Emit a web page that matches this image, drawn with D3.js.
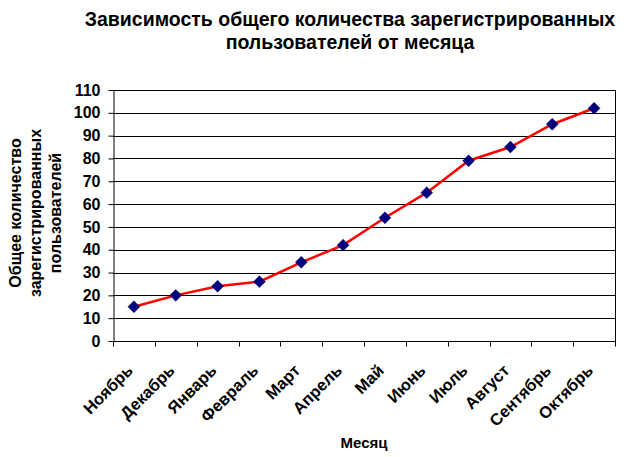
<!DOCTYPE html>
<html>
<head>
<meta charset="utf-8">
<script src="https://cdn.jsdelivr.net/npm/d3@7"></script>
<style>
    body { margin: 0; background: #fff; }
    text { font-family: "Liberation Sans", Arial, sans-serif; font-weight: bold; fill: #000; }
</style>
</head>
<body>
<div id="chart"></div>
<script>
const months = ['Ноябрь', 'Декабрь', 'Январь', 'Февраль', 'Март', 'Апрель', 'Май', 'Июнь', 'Июль', 'Август', 'Сентябрь', 'Октябрь'];
const users = [15, 20, 24, 26, 34.5, 42, 54, 65, 79, 85, 95, 102];
const yTicks = [0, 10, 20, 30, 40, 50, 60, 70, 80, 90, 100, 110];
const titleLines = ['Зависимость общего количества зарегистрированных', 'пользователей от месяца'];
const yTitleLines = ['Общее количество', 'зарегистрированных', 'пользователей'];

const width = 627;
const height = 457;
const margin = {top: 90, right: 12, bottom: 116, left: 113};

const svg = d3.select('#chart')
    .append('svg')
    .attr('width', width)
    .attr('height', height);

const x = d3.scaleBand()
    .domain(months)
    .range([margin.left, width - margin.right]);

const y = d3.scaleLinear()
    .domain([0, 110])
    .range([height - margin.bottom, margin.top]);

const cx = d => x(d) + x.bandwidth() / 2;

// grid lines
svg.append('g')
    .selectAll('line')
    .data(yTicks.slice(1))
    .enter()
    .append('line')
    .attr('x1', margin.left)
    .attr('x2', width - margin.right)
    .attr('y1', d => Math.round(y(d)) + 0.5)
    .attr('y2', d => Math.round(y(d)) + 0.5)
    .attr('stroke', '#000')
    .attr('stroke-width', 1);

// right border of plot area
svg.append('line')
    .attr('x1', width - margin.right + 0.5)
    .attr('x2', width - margin.right + 0.5)
    .attr('y1', y(110))
    .attr('y2', y(0))
    .attr('stroke', '#000');

// y axis
const yAxis = svg.append('g')
    .attr('transform', `translate(${margin.left + 0.5},0)`)
    .call(d3.axisLeft(y).tickValues(yTicks).tickSize(5).tickSizeOuter(0).tickPadding(8));
yAxis.select('.domain').attr('stroke', '#000');
yAxis.selectAll('text').style('font-size', '16px').style('font-family', '"Liberation Sans", Arial, sans-serif');

// x axis, ticks between categories
const xAxis = svg.append('g')
    .attr('transform', `translate(0,${Math.round(y(0)) + 0.5})`);
xAxis.append('line')
    .attr('x1', margin.left)
    .attr('x2', width - margin.right + 1)
    .attr('stroke', '#000');
xAxis.selectAll('.tick-line')
    .data(months.concat(['end']))
    .enter()
    .append('line')
    .attr('x1', (d, i) => Math.round(margin.left + i * x.step()) + 0.5)
    .attr('x2', (d, i) => Math.round(margin.left + i * x.step()) + 0.5)
    .attr('y1', 0)
    .attr('y2', 5)
    .attr('stroke', '#000');
xAxis.selectAll('.tick-label')
    .data(months)
    .enter()
    .append('text')
    .attr('transform', d => `translate(${cx(d)},${30}) rotate(-45)`)
    .attr('text-anchor', 'end')
    .style('font-size', '16.5px')
    .text(d => d);

// line
const line = d3.line()
    .x((d, i) => cx(months[i]))
    .y(d => y(d));

svg.append('path')
    .datum(users)
    .attr('d', line)
    .attr('fill', 'none')
    .attr('stroke', '#ff0000')
    .attr('stroke-width', 2.5);

// markers
svg.append('g')
    .selectAll('path')
    .data(users)
    .enter()
    .append('path')
    .attr('d', d3.symbol().type(d3.symbolDiamond2).size(90))
    .attr('transform', (d, i) => `translate(${cx(months[i])},${y(d)})`)
    .attr('fill', '#000080')
    .attr('stroke', '#000040')
    .attr('stroke-width', 0.5);

// title
svg.append('text')
    .attr('y', 26)
    .attr('text-anchor', 'middle')
    .style('font-size', '19.5px')
    .selectAll('tspan')
    .data(titleLines)
    .enter()
    .append('tspan')
    .attr('x', 350)
    .attr('dy', (d, i) => i === 0 ? 0 : 23)
    .text(d => d);

// y title
svg.append('text')
    .attr('transform', 'translate(21,213) rotate(-90)')
    .attr('text-anchor', 'middle')
    .style('font-size', '16px')
    .selectAll('tspan')
    .data(yTitleLines)
    .enter()
    .append('tspan')
    .attr('x', 0)
    .attr('dy', (d, i) => i === 0 ? 0 : 20)
    .text(d => d);

// x title
svg.append('text')
    .attr('x', 364)
    .attr('y', 448)
    .attr('text-anchor', 'middle')
    .style('font-size', '15px')
    .text('Месяц');
</script>
</body>
</html>
